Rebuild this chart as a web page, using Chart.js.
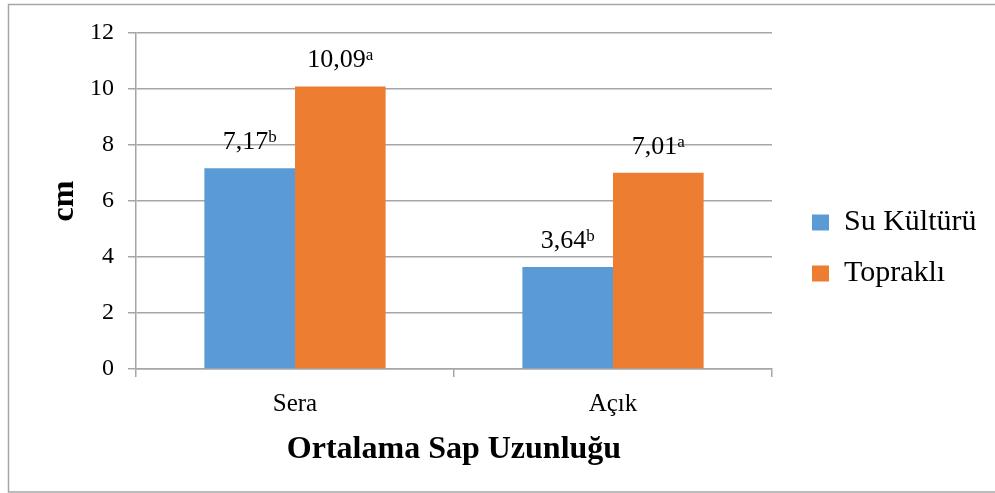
<!DOCTYPE html>
<html>
<head>
<meta charset="utf-8">
<script src="https://cdn.jsdelivr.net/npm/chart.js@4.4.1/dist/chart.umd.min.js"></script>
<style>
  html, body { margin: 0; padding: 0; background: #fff; }
  #wrap { width: 995px; height: 493px; position: relative; }
</style>
</head>
<body>
<div id="wrap"><canvas id="c" width="995" height="493"></canvas></div>
<script>
// ---- data ----
const categories = ['Sera', 'Açık'];
const seriesNames = ['Su Kültürü', 'Topraklı'];
const suKulturu = [7.17, 3.64];
const toprakli = [10.09, 7.01];
const suKulturuSup = ['b', 'b'];
const topraklıSup = ['a', 'a'];
const yTicks = [0, 2, 4, 6, 8, 10, 12];
const xTitle = 'Ortalama Sap Uzunluğu';
const yTitle = 'cm';

const supLetters = [suKulturuSup, topraklıSup];
const FONT = "'Liberation Serif', 'Times New Roman', serif";
const GRID = '#a6a6a6';

const framePlugin = {
  id: 'frame',
  beforeDraw(chart) {
    const ctx = chart.ctx;
    ctx.save();
    ctx.fillStyle = '#fff';
    ctx.fillRect(0, 0, chart.width, chart.height);
    ctx.strokeStyle = '#a6a6a6';
    ctx.lineWidth = 1.5;
    ctx.strokeRect(8.5, 4.5, chart.width + 10, chart.height - 5.5);
    ctx.restore();
  }
};

const legendPlacePlugin = {
  id: 'legendPlace',
  afterInit(chart) {
    const lg = chart.legend;
    if (!lg) return;
    const orig = lg.fit.bind(lg);
    lg.fit = function () { orig(); this.width = 223; };
  },
  afterLayout(chart) {
    const lg = chart.legend;
    if (!lg) return;
    const w = lg.right - lg.left;
    lg.left = 812 - 21;
    lg.right = lg.left + w;
    lg.top -= 15;
    lg.bottom -= 15;
  }
};

const labelPlugin = {
  id: 'barLabels',
  afterDatasetsDraw(chart) {
    const ctx = chart.ctx;
    ctx.save();
    ctx.fillStyle = '#000';
    ctx.textBaseline = 'alphabetic';
    ctx.textAlign = 'left';
    chart.data.datasets.forEach((ds, di) => {
      const meta = chart.getDatasetMeta(di);
      meta.data.forEach((bar, i) => {
        const main = ds.data[i].toFixed(2).replace('.', ',');
        const sup = supLetters[di][i];
        ctx.font = '26px ' + FONT;
        const wm = ctx.measureText(main).width;
        ctx.font = '17px ' + FONT;
        const ws = ctx.measureText(sup).width;
        const x0 = bar.x - (wm + ws) / 2;
        const base = bar.y - 19;
        ctx.font = '26px ' + FONT;
        ctx.fillText(main, x0, base);
        ctx.font = '17px ' + FONT;
        ctx.fillText(sup, x0 + wm, base - 7);
      });
    });
    ctx.restore();
  }
};

new Chart(document.getElementById('c'), {
  type: 'bar',
  data: {
    labels: categories,
    datasets: [
      { label: seriesNames[0], data: suKulturu, backgroundColor: '#5B9BD5', borderWidth: 0 },
      { label: seriesNames[1], data: toprakli, backgroundColor: '#ED7D31', borderWidth: 0 }
    ]
  },
  options: {
    responsive: false,
    animation: false,
    devicePixelRatio: 1,
    layout: { padding: { top: 33, left: 0, right: 0, bottom: 0 } },
    datasets: { bar: { categoryPercentage: 0.57, barPercentage: 1.0 } },
    plugins: {
      tooltip: { enabled: false },
      legend: {
        position: 'right',
        labels: {
          color: '#000',
          font: { family: FONT, size: 30 },
          boxWidth: 17,
          boxHeight: 16,
          padding: 21
        }
      }
    },
    scales: {
      x: {
        offset: true,
        afterFit(s) { s.height = 124; },
        grid: { display: true, drawOnChartArea: false, offset: true, tickLength: 8, color: GRID, lineWidth: 1.5 },
        border: { display: true, color: GRID, width: 1.5 },
        ticks: { color: '#000', font: { family: FONT, size: 25 }, padding: 12 },
        title: { display: true, text: xTitle, color: '#000', font: { family: FONT, size: 32, weight: 'bold' }, padding: { top: 0, bottom: 24 } }
      },
      y: {
        min: 0,
        max: 12,
        afterFit(s) { s.width = 136; },
        afterBuildTicks(s) { s.ticks = yTicks.map(v => ({ value: v })); },
        grid: { color: GRID, tickLength: 8, lineWidth: 1.5 },
        border: { display: true, color: GRID, width: 1.5 },
        ticks: { color: '#000', font: { family: FONT, size: 24 }, padding: 14 },
        title: { display: true, text: yTitle, color: '#000', font: { family: FONT, size: 32, weight: 'bold' }, padding: { top: 46, bottom: 0 } }
      }
    }
  },
  plugins: [framePlugin, legendPlacePlugin, labelPlugin]
});
</script>
</body>
</html>
